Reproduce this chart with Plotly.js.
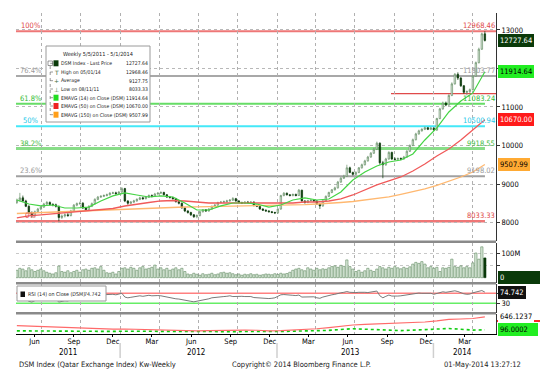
<!DOCTYPE html>
<html><head><meta charset="utf-8">
<script src="https://cdn.plot.ly/plotly-3.0.1.min.js"></script>
<style>html,body{margin:0;padding:0;background:#fff}#chart{width:540px;height:380px}</style>
</head><body><div id="chart"></div>
<script>
// ---------- DATA ----------
const firstWeek = '2011-05-05';
const opens = [8520,8580,8640,8560,8420,8250,8180,8280,8350,8400,
8480,8520,8470,8460,8420,8130,8170,8200,8180,8300,
8450,8490,8500,8380,8330,8420,8490,8600,8660,8680,
8700,8720,8760,8770,8750,8790,8880,8560,8500,8530,
8560,8600,8640,8620,8660,8700,8680,8740,8760,8780,
8720,8660,8650,8620,8540,8500,8380,8300,8260,8200,
8150,8180,8280,8330,8300,8350,8420,8450,8520,8530,
8540,8560,8580,8620,8560,8520,8500,8530,8520,8530,
8440,8420,8350,8320,8300,8280,8260,8250,8350,8700,
8760,8720,8700,8730,8700,8840,8560,8520,8570,8580,
8560,8480,8430,8560,8680,8780,8850,8900,9050,9150,
9200,9420,9300,9250,9300,9420,9500,9600,9700,9800,
9900,10060,9550,9500,9650,9820,9650,9640,9660,9650,
9700,9850,10000,10150,10300,10380,10420,10460,10420,10450,
10400,10700,10950,11100,11050,11300,11600,11850,11750,11550,
11380,11400,11450,11800,12150,12500,12900];
const highs = [8620,8770,8700,8590,8450,8290,8310,8380,8430,8510,
8560,8550,8500,8490,8440,8210,8240,8250,8330,8480,
8520,8540,8530,8400,8450,8520,8630,8690,8710,8730,
8750,8790,8800,8800,8820,8920,8900,8580,8560,8590,
8630,8670,8670,8690,8730,8730,8770,8790,8810,8800,
8740,8690,8670,8640,8560,8520,8400,8320,8280,8220,
8210,8300,8350,8350,8370,8440,8480,8540,8560,8570,
8590,8610,8660,8640,8580,8540,8550,8560,8550,8550,
8460,8440,8370,8340,8320,8300,8280,8370,8720,8790,
8780,8740,8750,8750,8870,8850,8580,8590,8600,8600,
8580,8500,8580,8700,8800,8870,8930,9080,9180,9240,
9500,9450,9320,9330,9440,9530,9630,9730,9830,9940,
10100,10080,9600,9680,9850,9840,9690,9690,9690,9730,
9880,10030,10180,10330,10410,10450,10490,10480,10480,10470,
10720,10980,11140,11140,11330,11640,11880,11900,11780,11570,
11430,11480,11830,12180,12540,12930,12968.46];
const lows = [8480,8540,8530,8400,8230,8120,8150,8250,8320,8380,
8450,8440,8420,8390,8033.33,8090,8130,8150,8160,8280,
8420,8460,8350,8300,8310,8400,8470,8580,8640,8660,
8680,8700,8740,8720,8730,8770,8530,8460,8470,8500,
8540,8580,8590,8600,8640,8650,8660,8720,8740,8700,
8640,8620,8590,8520,8470,8360,8270,8230,8170,8120,
8110,8160,8260,8280,8280,8330,8400,8430,8500,8510,
8520,8540,8560,8540,8500,8480,8480,8500,8500,8420,
8400,8330,8300,8280,8260,8240,8220,8230,8330,8680,
8700,8680,8680,8680,8690,8540,8490,8500,8550,8540,
8460,8350,8410,8540,8660,8760,8830,8880,9030,9130,
9180,9280,9220,9230,9280,9400,9480,9580,9680,9780,
9880,9500,9150,9470,9630,9620,9610,9610,9620,9630,
9680,9830,9980,10130,10280,10360,10400,10400,10400,10380,
10380,10680,10930,11020,11030,11280,11580,11700,11520,11340,
11300,11360,11430,11780,12130,12480,12700];
const closes = [8580,8640,8560,8420,8250,8180,8280,8350,8400,8480,
8520,8470,8460,8420,8130,8170,8200,8180,8300,8450,
8490,8500,8380,8330,8420,8490,8600,8660,8680,8700,
8720,8760,8770,8750,8790,8880,8560,8500,8530,8560,
8600,8640,8620,8660,8700,8680,8740,8760,8780,8720,
8660,8650,8620,8540,8500,8380,8300,8260,8200,8150,
8180,8280,8330,8300,8350,8420,8450,8520,8530,8540,
8560,8580,8620,8560,8520,8500,8530,8520,8530,8440,
8420,8350,8320,8300,8280,8260,8250,8350,8700,8760,
8720,8700,8730,8700,8840,8560,8520,8570,8580,8560,
8480,8430,8560,8680,8780,8850,8900,9050,9150,9200,
9420,9300,9250,9300,9420,9500,9600,9700,9800,9900,
10060,9550,9500,9650,9820,9650,9640,9660,9650,9700,
9850,10000,10150,10300,10380,10420,10460,10420,10450,10400,
10700,10950,11100,11050,11300,11600,11850,11750,11550,11380,
11400,11450,11800,12150,12500,12900,12727.64];
const volumeM = [30,38,35,28,40,32,25,30,35,28,22,18,15,20,47,25,22,28,20,25,
30,22,32,35,30,38,40,35,45,30,20,18,22,15,25,38,40,35,42,38,
30,40,45,35,38,42,51,35,40,32,38,30,35,40,32,38,25,15,12,18,
14,10,16,12,14,18,12,15,20,22,18,20,16,12,15,10,14,12,16,12,
14,10,12,15,14,12,16,13,18,15,17,22,30,35,38,32,28,40,35,30,
38,32,36,34,40,45,48,42,50,46,72,45,35,25,30,22,28,38,30,25,
35,45,40,35,42,38,45,40,36,42,38,44,55,62,58,65,55,40,45,38,
42,25,40,38,42,75,45,42,48,40,45,40,60,100,75,125,80];
const rsi14 = [55,58,52,45,38,35,42,46,48,52,54,50,49,46,35,38,40,39,45,52,
54,55,48,46,51,55,60,63,64,65,66,66,66,64,66,70,55,52,54,56,
58,60,58,60,62,60,62,61,60,57,55,53,50,48,47,44,42,40,38,36,
38,42,45,44,48,52,54,55,56,57,58,60,57,58,59,58,57,58,57,53,
52,50,48,48,49,50,52,58,64,65,63,61,62,61,63,55,56,57,57,56,
52,50,55,59,62,64,66,70,72,74,77,74,72,73,74,75,74,73,76,78,
79,60,52,58,63,59,58,59,60,62,65,68,70,71,71,70,70,69,70,66,
70,73,76,74,77,79,80,77,72,68,66,67,72,76,79,81,74.742];
// studies read every 4th week
const studyStepWeeks = 4;
const ema14 = [8585,8480,8430,8455,8377,8377,8400,8560,8690,8767,8715,8663,8690,8663,8507,8325,8325,8430,8507,8507,
8480,8400,8455,8585,8637,8585,8611,8793,9105,9312,9468,9572,9624,9780,10143,10455,10870,11156,11364,11914.64];
const ema50 = [8120,8170,8196,8221,8247,8273,8299,8325,8364,8429,8481,8520,8559,8572,8559,8533,8507,8507,8507,8507,
8507,8494,8494,8507,8533,8533,8559,8611,8715,8845,8975,9079,9182,9338,9520,9728,9910,10143,10403,10670.00];
const ema150 = [8234,8247,8260,8273,8286,8299,8312,8325,8338,8351,8364,8377,8390,8403,8403,8408,8413,8419,8424,8429,
8434,8439,8445,8455,8466,8481,8494,8520,8546,8585,8624,8663,8728,8793,8871,8962,9066,9182,9312,9507.99];
const oscMain = [275,255,235,215,200,180,160,140,125,130,115,100,95,90,85,50,60,75,85,80,
75,45,55,80,100,140,190,250,300,325,340,360,375,400,430,480,545,560,580,646.1237];
const oscSignal = [50,45,40,30,20,15,10,15,25,35,30,25,20,15,10,5,5,10,15,20,
15,10,20,35,45,50,70,110,140,120,90,70,60,80,110,140,150,120,80,96.0002];
const fibPct = ['100%','76.4%','61.8%','50%','38.2%','23.6%','0%'];
const fibLevels = [12968.46,11803.77,11083.24,10500.94,9918.55,9198.02,8033.33];
const supportLevel = 11346;
const priceTicks = [8000,9000,10000,11000,12000,13000];
const priceTickText = ['8000','9000','10000','11000','','13000'];
const monthTickDates = ['2011-06-15','2011-09-15','2011-12-15','2012-03-15','2012-06-15','2012-09-15','2012-12-15','2013-03-15','2013-06-15','2013-09-15','2013-12-15','2014-03-15'];
const monthTickText = ['Jun','Sep','Dec','Mar','Jun','Sep','Dec','Mar','Jun','Sep','Dec','Mar'];
const yearLabels = ['2011','2012','2013','2014'];
const yearLabelDates = ['2011-09-02','2012-06-26','2013-06-20','2014-03-09'];
const yearStarts = ['2012-01-01','2013-01-01','2014-01-01'];
const legendLabels = ['DSM Index - Last Price','High on 05/01/14','Average','Low on 08/11/11','EMAVG (14) on Close (DSM)','EMAVG (50) on Close (DSM)','EMAVG (150) on Close (DSM)'];
const legendValues = ['12727.64','12968.46','9127.75','8033.33','11914.64','10670.00','9507.99'];

// ---------- BUILD ----------
const weeks = [];
{ const t0 = Date.parse(firstWeek + 'T00:00:00Z');
  for (let i = 0; i < closes.length; i++) weeks.push(new Date(t0 + i*7*86400000).toISOString().slice(0,10)); }
const studyDates = ema14.map((_, k) => weeks[Math.min(k*studyStepWeeks, weeks.length-1)]);

const F = 'Liberation Sans Narrow, DejaVu Sans Condensed, Arial Narrow, sans-serif';
const px = x => (x-16)/480;
const py = y => (334-y)/321;

const fibColors = ['#ee7777','#a8a8a8','#66dd66','#44e8f8','#88dd88','#a0a0a0','#ee7777'];
const fibText = ['#e04848','#999999','#33bb33','#22c8e8','#44bb44','#999999','#e04848'];
const fibWidth = [2,2,2,2,3,2,2.5];
const fibEnd = [1,1,0.977,0.977,0.977,0.977,0.977];

const volColors = volumeM.map((v,i)=> i===volumeM.length-1 ? '#0a3a0a' : '#dbe9db');
const volLines = volumeM.map((v,i)=> i===volumeM.length-1 ? '#0a3a0a' : '#5f8a5f');

const data = [
  {type:'candlestick', x:weeks, open:opens, high:highs, low:lows, close:closes, xaxis:'x', yaxis:'y',
   increasing:{line:{color:'#678f67', width:0.7}, fillcolor:'#e6efe6'},
   decreasing:{line:{color:'#0a3a0a', width:0.7}, fillcolor:'#0a3a0a'},
   whiskerwidth:0, hoverinfo:'skip'},
  {type:'scatter', mode:'lines', x:studyDates, y:ema150, yaxis:'y', line:{color:'#ffb870', width:1.3}, hoverinfo:'skip'},
  {type:'scatter', mode:'lines', x:studyDates, y:ema50, yaxis:'y', line:{color:'#f05a5a', width:1.3}, hoverinfo:'skip'},
  {type:'scatter', mode:'lines', x:studyDates, y:ema14, yaxis:'y', line:{color:'#44d444', width:1.2}, hoverinfo:'skip'},
  {type:'bar', x:weeks, y:volumeM, yaxis:'y2', marker:{color:volColors, line:{color:volLines, width:0.6}}, hoverinfo:'skip'},
  {type:'scatter', mode:'lines', x:weeks, y:rsi14, yaxis:'y3', line:{color:'#7a7a7a', width:1}, hoverinfo:'skip'},
  {type:'scatter', mode:'lines', x:studyDates, y:oscSignal, yaxis:'y4', line:{color:'#11cc11', width:1.6, dash:'dot'}, hoverinfo:'skip'},
  {type:'scatter', mode:'lines', x:studyDates, y:oscMain, yaxis:'y4', line:{color:'#ff6a6a', width:1.2}, hoverinfo:'skip'}
];

const shapes = [];
const annotations = [];
const txt = (o) => Object.assign({showarrow:false, font:{family:F, size:7.5, color:'#000'}}, o);

fibLevels.forEach((lv,k)=>{
  shapes.push({type:'line', layer:'between', xref:'paper', yref:'y', x0:0, x1:fibEnd[k], y0:lv, y1:lv, line:{color:fibColors[k], width:fibWidth[k]}});
  annotations.push(txt({xref:'paper', yref:'y', x:px(30.5), y:lv, xanchor:'center', yanchor:'bottom', text:fibPct[k], font:{family:F,size:7.5,color:fibText[k]}, borderpad:0}));
  annotations.push(txt({xref:'paper', yref:'y', x:px(496), y:lv, xanchor:'right', yanchor:'bottom', text:lv.toFixed(2), font:{family:F,size:7.5,color:fibText[k]}, borderpad:0}));
});
shapes.push({type:'line', layer:'between', xref:'paper', yref:'y', x0:px(391), x1:1, y0:supportLevel, y1:supportLevel, line:{color:'#e04a4a', width:1.2}});

// RSI reference lines
shapes.push({type:'line', layer:'between', xref:'paper', yref:'y3', x0:0, x1:1, y0:70, y1:70, line:{color:'#ff8080', width:1.5}});
shapes.push({type:'line', layer:'between', xref:'paper', yref:'y3', x0:0, x1:1, y0:30, y1:30, line:{color:'#66ee66', width:1.5}});

// panel separators
[241.7, 283.3, 313.3].forEach(y => shapes.push({type:'line', layer:'above', xref:'paper', yref:'paper', x0:0, x1:1, y0:py(y), y1:py(y), line:{color:'#8a8a8a', width:2.5}}));

// year separators under axis
yearStarts.forEach(d => shapes.push({type:'line', xref:'x', yref:'paper', x0:d, x1:d, y0:py(343), y1:py(358), line:{color:'#cfcfcf', width:1.5}}));
yearLabels.forEach((t,k)=> annotations.push(txt({xref:'x', yref:'paper', x:yearLabelDates[k], y:py(353), xanchor:'center', yanchor:'middle', text:t, font:{family:F,size:8,color:'#000'}})));

// legend box
shapes.push({type:'rect', layer:'above', xref:'paper', yref:'paper', x0:px(46), x1:px(150), y0:py(122), y1:py(46), line:{color:'#9a9a9a', width:1}, fillcolor:'#ffffff'});
const rowY = [63.3, 72, 80.7, 89, 97.7, 106, 114.7];
const LF = 5.1;
annotations.push(txt({xref:'paper', yref:'paper', x:px(98), y:py(54.5), xanchor:'center', yanchor:'middle', text:'Weekly 5/5/2011 - 5/1/2014', font:{family:F,size:5.6,color:'#222'}, borderpad:0}));
shapes.push({type:'rect', layer:'above', xref:'paper', yref:'paper', x0:px(48), x1:px(52.5), y0:py(65.5), y1:py(61), line:{color:'#555', width:0.6}, fillcolor:'#fff'});
shapes.push({type:'line', layer:'above', xref:'paper', yref:'paper', x0:px(50.2), x1:px(50.2), y0:py(66), y1:py(114.7), line:{color:'#555', width:0.6, dash:'dot'}});
const iconColors = ['#0a3a0a', null, null, null, '#22dd22', '#ee2222', '#ff9f1a'];
const iconGlyph = [null, 'T', '+', '⊥', null, null, null];
rowY.forEach((y,k)=>{
  shapes.push({type:'line', layer:'above', xref:'paper', yref:'paper', x0:px(50.2), x1:px(53), y0:py(y), y1:py(y), line:{color:'#555', width:0.6}});
  if (iconColors[k]) shapes.push({type:'rect', layer:'above', xref:'paper', yref:'paper', x0:px(53.5), x1:px(58.5), y0:py(y+3), y1:py(y-3), line:{color:iconColors[k], width:0}, fillcolor:iconColors[k]});
  if (iconGlyph[k]) annotations.push(txt({xref:'paper', yref:'paper', x:px(56), y:py(y), xanchor:'center', yanchor:'middle', text:iconGlyph[k], font:{family:'DejaVu Sans',size:6,color:'#3d6b3d'}, borderpad:0}));
  annotations.push(txt({xref:'paper', yref:'paper', x:px(60), y:py(y), xanchor:'left', yanchor:'middle', text:legendLabels[k], font:{family:F,size:LF,color:'#222'}, borderpad:0}));
  annotations.push(txt({xref:'paper', yref:'paper', x:px(148.5), y:py(y), xanchor:'right', yanchor:'middle', text:legendValues[k], font:{family:F,size:LF,color:'#222'}, borderpad:0}));
});

// RSI legend box
shapes.push({type:'rect', layer:'above', xref:'paper', yref:'paper', x0:px(17), x1:px(106), y0:py(301), y1:py(286), line:{color:'#9a9a9a', width:1}, fillcolor:'#ffffff'});
shapes.push({type:'rect', layer:'above', xref:'paper', yref:'paper', x0:px(20.5), x1:px(25), y0:py(297), y1:py(291.5), line:{width:0}, fillcolor:'#111'});
annotations.push(txt({xref:'paper', yref:'paper', x:px(27), y:py(294.3), xanchor:'left', yanchor:'middle', text:'RSI (14) on Close (DSM)', font:{family:F,size:5.3,color:'#222'}, borderpad:0}));
annotations.push(txt({xref:'paper', yref:'paper', x:px(102), y:py(294.3), xanchor:'right', yanchor:'middle', text:'74.742', font:{family:F,size:5.3,color:'#222'}, borderpad:0}));

// right-hand value tags
const tag = (yref, y, text, bg, fg, w) => annotations.push(txt({xref:'paper', yref:yref, x:px(498), y:y, xanchor:'left', yanchor:'middle', text:text, bgcolor:bg, bordercolor:bg, borderpad:1, width:w, align:'left', font:{family:F,size:7.5,color:fg}}));
tag('y', 12727.64, '12727.64', '#0a3a0a', '#ffffff');
tag('y', 11914.64, '11914.64', '#22ee22', '#000000');
tag('y', 10670.00, '10670.00', '#ff1a1a', '#ffffff');
tag('y', 9507.99, '9507.99', '#ffaa33', '#000000');
tag('y2', 0, '0', '#0a3a0a', '#ffffff', 38);
tag('y3', 74.742, '74.742', '#111111', '#ffffff');
shapes.push({type:'rect', xref:'paper', yref:'paper', x0:px(497), x1:px(540), y0:py(322), y1:py(320), line:{width:0}, fillcolor:'#ff2a2a'});
tag('y4', 646.1237, '646.1237', '#ffffff', '#000000');
tag('y4', 96.0002, '96.0002', '#22ee22', '#000000', 36);

// footer
annotations.push(txt({xref:'paper', yref:'paper', x:px(17), y:py(365), xanchor:'left', yanchor:'middle', text:'DSM Index (Qatar Exchange Index) Kw-Weekly', font:{family:F,size:7.5,color:'#222'}}));
annotations.push(txt({xref:'paper', yref:'paper', x:px(301), y:py(365), xanchor:'center', yanchor:'middle', text:'Copyright© 2014 Bloomberg Finance L.P.', font:{family:F,size:7.5,color:'#222'}}));
annotations.push(txt({xref:'paper', yref:'paper', x:px(523), y:py(365), xanchor:'right', yanchor:'middle', text:'01-May-2014 13:27:12', font:{family:F,size:7.5,color:'#222'}}));

const yBase = {anchor:'x', side:'right', showline:true, linecolor:'#333', linewidth:1, ticks:'outside', ticklen:3, tickcolor:'#333',
  zeroline:false, tickfont:{family:F, size:7.5, color:'#000'}, fixedrange:true, tickmode:'array'};
const layout = {
  width:540, height:380, margin:{l:16, r:44, t:13, b:46}, paper_bgcolor:'#ffffff', plot_bgcolor:'#ffffff',
  showlegend:false, font:{family:F, size:7.5, color:'#000'}, bargap:0.25,
  xaxis:{type:'date', range:['2011-05-03','2014-05-27'], anchor:'y4', rangeslider:{visible:false},
    tickmode:'array', tickvals:monthTickDates, ticktext:monthTickText, ticks:'outside', ticklen:2, tickcolor:'#000',
    ticklabelstandoff:-2,
    showgrid:false, showline:true, linecolor:'#000', linewidth:1, zeroline:false,
    tickfont:{family:F, size:7.5, color:'#000'},
    minor:{dtick:'M3', tick0:'2011-07-01', showgrid:true, gridcolor:'#b0b0b0', griddash:'dot', gridwidth:1, ticks:''}},
  yaxis: Object.assign({}, yBase, {domain:[py(241),1], range:[7520,13440], tickvals:priceTicks, ticktext:priceTickText,
    showgrid:true, gridcolor:'#b8b8b8', griddash:'dot'}),
  yaxis2: Object.assign({}, yBase, {domain:[py(283),py(243)], range:[-21.5,140.5], tickvals:[50,100], ticktext:['','100M'],
    showgrid:true, gridcolor:'#c8c8c8', griddash:'dot'}),
  yaxis3: Object.assign({}, yBase, {domain:[py(313),py(284)], range:[-8.8,107.2], tickvals:[30,70], ticktext:['30',''], showgrid:false}),
  yaxis4: Object.assign({}, yBase, {domain:[0,py(314)], range:[-86,774], tickvals:[], showgrid:false}),
  shapes:shapes, annotations:annotations
};
Plotly.newPlot('chart', data, layout, {staticPlot:true, displayModeBar:false});
</script></body></html>
